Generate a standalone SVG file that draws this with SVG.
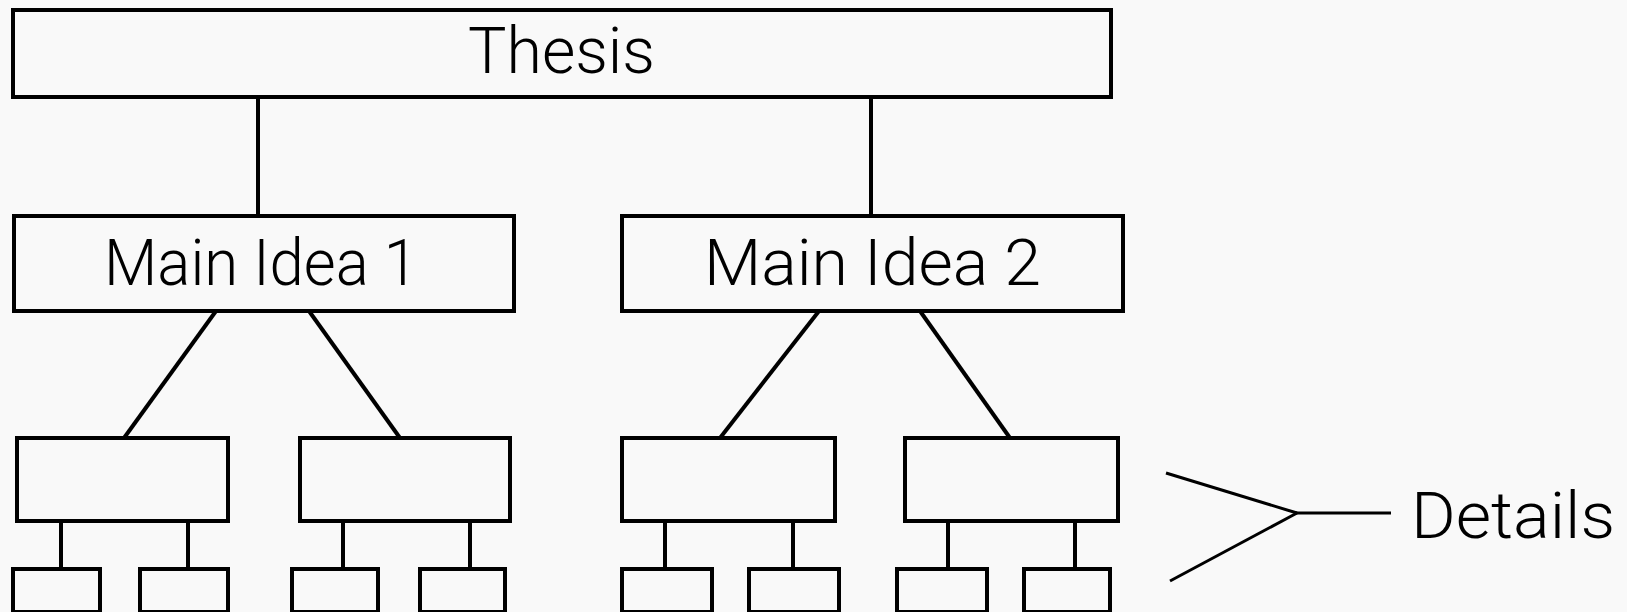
<svg xmlns="http://www.w3.org/2000/svg" width="1627" height="612" viewBox="0 0 1627 612">
  <style>
    .box { fill: none; stroke: #000; stroke-width: 4; shape-rendering: crispEdges; }
    .conn line { stroke: #000; stroke-width: 4; stroke-linecap: butt; }
    .conn .v { shape-rendering: crispEdges; }
    .brace line { stroke: #000; stroke-width: 3; }
    .lbl { font-family: Roboto, "Liberation Sans", sans-serif; font-weight: 300; font-size: 64px; fill: #000; }
  </style>

  <rect width="1627" height="612" fill="#f9f9f9"/>

  <!-- connectors -->
  <g id="connectors" class="conn">
    <line class="v" x1="258" y1="97" x2="258" y2="216"/>
    <line class="v" x1="871" y1="97" x2="871" y2="216"/>
    <line x1="216" y1="311" x2="124" y2="438"/>
    <line x1="309" y1="311" x2="400" y2="438"/>
    <line x1="819" y1="311" x2="720" y2="438"/>
    <line x1="920" y1="311" x2="1010" y2="438"/>
    <line class="v" x1="61" y1="521" x2="61" y2="569"/>
    <line class="v" x1="188" y1="521" x2="188" y2="569"/>
    <line class="v" x1="343" y1="521" x2="343" y2="569"/>
    <line class="v" x1="470" y1="521" x2="470" y2="569"/>
    <line class="v" x1="665" y1="521" x2="665" y2="569"/>
    <line class="v" x1="793" y1="521" x2="793" y2="569"/>
    <line class="v" x1="948" y1="521" x2="948" y2="569"/>
    <line class="v" x1="1075" y1="521" x2="1075" y2="569"/>
  </g>

  <!-- top level -->
  <g id="thesis">
    <rect class="box" x="13" y="10" width="1098" height="87"/>
    <text class="lbl" x="468" y="73" textLength="187" lengthAdjust="spacingAndGlyphs">Thesis</text>
  </g>

  <!-- second level -->
  <g id="main-idea-1">
    <rect class="box" x="14" y="216" width="500" height="95"/>
    <text class="lbl" x="104" y="285" textLength="314" lengthAdjust="spacingAndGlyphs">Main Idea 1</text>
  </g>
  <g id="main-idea-2">
    <rect class="box" x="622" y="216" width="501" height="95"/>
    <text class="lbl" x="704" y="285" textLength="337" lengthAdjust="spacingAndGlyphs">Main Idea 2</text>
  </g>

  <!-- third level -->
  <g id="sub-1a"><rect class="box" x="17" y="438" width="211" height="83"/></g>
  <g id="sub-1b"><rect class="box" x="300" y="438" width="210" height="83"/></g>
  <g id="sub-2a"><rect class="box" x="622" y="438" width="213" height="83"/></g>
  <g id="sub-2b"><rect class="box" x="905" y="438" width="213" height="83"/></g>

  <!-- fourth level (details) -->
  <g id="detail-1"><rect class="box" x="13" y="569" width="87" height="43"/></g>
  <g id="detail-2"><rect class="box" x="140" y="569" width="88" height="43"/></g>
  <g id="detail-3"><rect class="box" x="292" y="569" width="86" height="43"/></g>
  <g id="detail-4"><rect class="box" x="420" y="569" width="85" height="43"/></g>
  <g id="detail-5"><rect class="box" x="622" y="569" width="90" height="43"/></g>
  <g id="detail-6"><rect class="box" x="749" y="569" width="90" height="43"/></g>
  <g id="detail-7"><rect class="box" x="897" y="569" width="90" height="43"/></g>
  <g id="detail-8"><rect class="box" x="1024" y="569" width="86" height="43"/></g>

  <!-- side annotation -->
  <g id="details-label" class="brace">
    <line x1="1166" y1="473" x2="1297" y2="513"/>
    <line x1="1170" y1="581" x2="1297" y2="513"/>
    <line x1="1296" y1="513" x2="1391" y2="513"/>
    <text class="lbl" x="1411" y="538" textLength="204" lengthAdjust="spacingAndGlyphs">Details</text>
  </g>
</svg>
